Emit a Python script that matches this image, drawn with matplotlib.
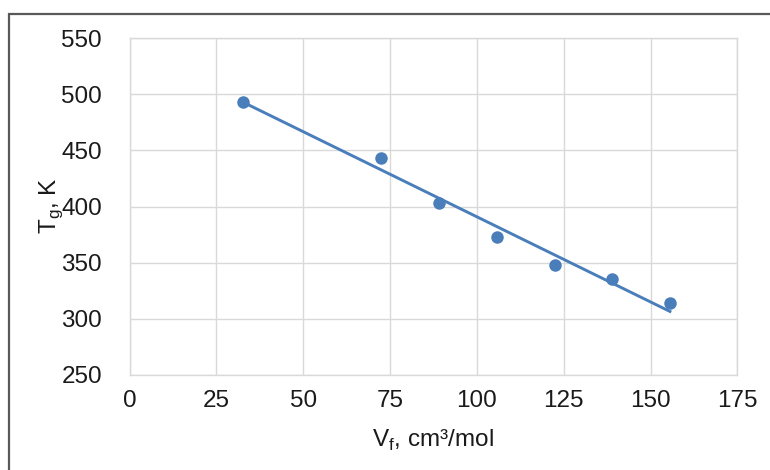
import numpy as np
import matplotlib
matplotlib.use('Agg')
import matplotlib.pyplot as plt
from matplotlib.patches import Rectangle

# free volume vs glass transition temperature
vf = [32.7, 72.3, 89.2, 105.9, 122.5, 139.0, 155.6]
tg = [493.5, 443.5, 403.0, 373.0, 347.5, 335.5, 313.5]

xticks = [0, 25, 50, 75, 100, 125, 150, 175]
yticks = [250, 300, 350, 400, 450, 500, 550]

blue = '#4a7ebb'
grid_c = '#d9d9d9'
txt_c = '#1a1a1a'
fs = 17.5

plt.rcParams['font.family'] = ['Liberation Sans', 'DejaVu Sans']
plt.rcParams['mathtext.fontset'] = 'custom'
plt.rcParams['mathtext.rm'] = 'Liberation Sans'

fig = plt.figure(figsize=(7.7, 4.7), dpi=100)
ax = fig.add_axes([129.7/770, 1-374.7/470, (737.3-129.7)/770, (374.7-38.3)/470])

# linear trendline
k, b = np.polyfit(vf, tg, 1)
xs = np.array([min(vf), max(vf)])
ax.plot(xs, k*xs + b, color=blue, linewidth=2.1, zorder=3)
ax.plot(vf, tg, 'o', color=blue, markersize=9, markeredgewidth=0, zorder=4)

ax.set_xlim(0, 175)
ax.set_ylim(250, 550)
ax.set_xticks(xticks)
ax.set_yticks(yticks)
ax.grid(True, color=grid_c, linewidth=1)
ax.set_axisbelow(True)
for s in ax.spines.values():
    s.set_color(grid_c)
    s.set_linewidth(1)
ax.tick_params(length=0, labelsize=fs, colors=txt_c)
ax.tick_params(axis='y', pad=20)
ax.tick_params(axis='x', pad=11)

fig.text(433/770, 1-440/470, r'V$_\mathregular{f}$, cm³/mol',
         fontsize=fs, ha='center', va='center', color=txt_c)
fig.text(51/770, 1-206/470, r'T$_\mathregular{g}$, K', rotation=90,
         fontsize=fs, ha='center', va='center', color=txt_c)

# outer frame
fig.patches.append(Rectangle((8.5/770, -0.05), 1.2, 1-13.5/470+0.05, transform=fig.transFigure,
                             fill=False, edgecolor='#595959', linewidth=1.6))

fig.savefig('out.png', dpi=100)
